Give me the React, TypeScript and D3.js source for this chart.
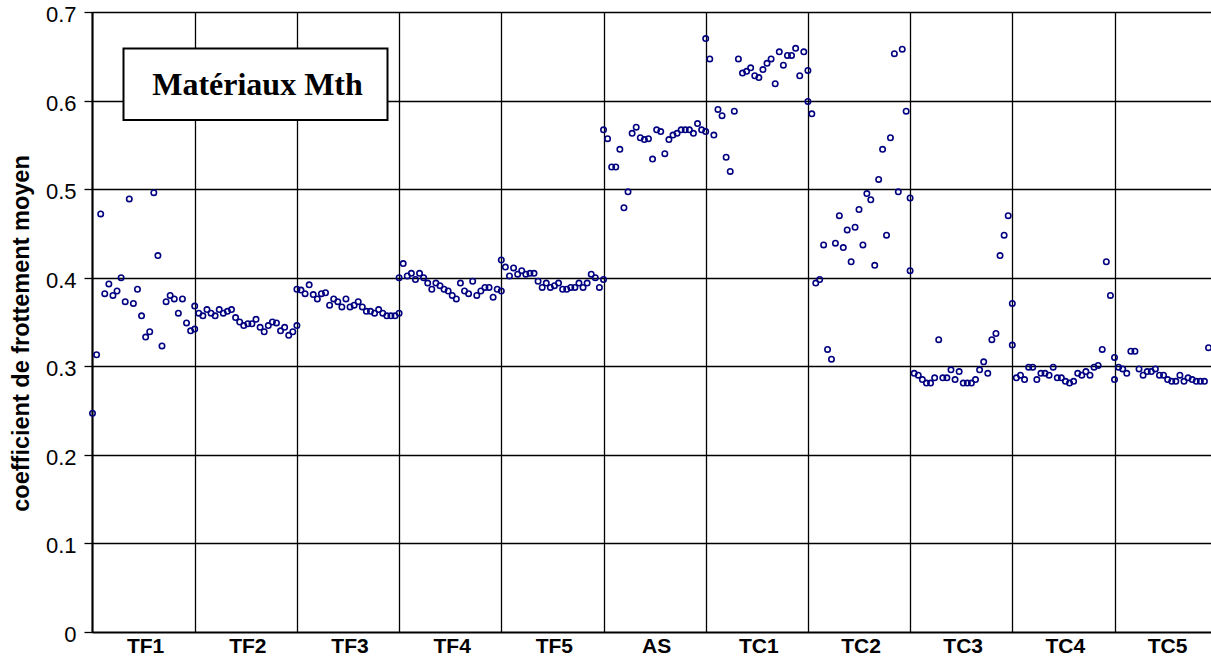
import React, { useRef, useEffect } from "react";
import * as d3 from "d3";

// Kategorien (x-Achse)
const categories = ["TF1", "TF2", "TF3", "TF4", "TF5", "AS", "TC1", "TC2", "TC3", "TC4", "TC5"];

const tf1 = [0.247, 0.313, 0.472, 0.382, 0.393, 0.38, 0.385, 0.4, 0.373, 0.489, 0.371, 0.387, 0.357, 0.333, 0.339, 0.496, 0.425, 0.323, 0.373, 0.38, 0.376, 0.36, 0.376, 0.349, 0.34, 0.342];
const tf2 = [0.368, 0.36, 0.357, 0.364, 0.36, 0.357, 0.364, 0.36, 0.362, 0.364, 0.355, 0.35, 0.346, 0.348, 0.348, 0.353, 0.344, 0.339, 0.346, 0.35, 0.349, 0.34, 0.344, 0.335, 0.339, 0.346];
const tf3 = [0.387, 0.386, 0.382, 0.392, 0.381, 0.376, 0.382, 0.383, 0.369, 0.376, 0.373, 0.367, 0.376, 0.367, 0.369, 0.373, 0.367, 0.362, 0.362, 0.36, 0.364, 0.36, 0.357, 0.357, 0.357, 0.36];
const tf4 = [0.4, 0.416, 0.402, 0.405, 0.398, 0.405, 0.4, 0.394, 0.387, 0.394, 0.391, 0.387, 0.385, 0.38, 0.376, 0.394, 0.385, 0.382, 0.396, 0.38, 0.385, 0.389, 0.389, 0.378, 0.387, 0.385];
const tf5 = [0.42, 0.412, 0.402, 0.411, 0.404, 0.408, 0.404, 0.405, 0.405, 0.396, 0.389, 0.394, 0.389, 0.391, 0.394, 0.387, 0.387, 0.389, 0.389, 0.394, 0.389, 0.394, 0.404, 0.4, 0.389, 0.398];
const as = [0.567, 0.557, 0.525, 0.525, 0.545, 0.479, 0.497, 0.563, 0.57, 0.558, 0.556, 0.557, 0.534, 0.567, 0.565, 0.54, 0.556, 0.561, 0.563, 0.567, 0.567, 0.567, 0.563, 0.574, 0.567, 0.565];
const tc1 = [0.67, 0.647, 0.561, 0.59, 0.583, 0.536, 0.52, 0.588, 0.647, 0.631, 0.633, 0.637, 0.628, 0.626, 0.635, 0.642, 0.647, 0.619, 0.655, 0.64, 0.651, 0.651, 0.659, 0.628, 0.655, 0.634];
const tc2 = [0.599, 0.585, 0.394, 0.398, 0.437, 0.319, 0.308, 0.439, 0.47, 0.434, 0.454, 0.418, 0.457, 0.477, 0.437, 0.495, 0.488, 0.414, 0.511, 0.545, 0.448, 0.558, 0.653, 0.497, 0.658, 0.588, 0.49];
const tc3 = [0.408, 0.292, 0.29, 0.285, 0.281, 0.281, 0.287, 0.33, 0.287, 0.287, 0.296, 0.285, 0.294, 0.281, 0.281, 0.281, 0.285, 0.296, 0.305, 0.292, 0.33, 0.337, 0.425, 0.448, 0.47, 0.371];
const tc4 = [0.324, 0.287, 0.29, 0.285, 0.299, 0.299, 0.285, 0.292, 0.292, 0.29, 0.299, 0.287, 0.287, 0.283, 0.281, 0.283, 0.292, 0.29, 0.294, 0.29, 0.299, 0.301, 0.319, 0.418, 0.38, 0.31];
const tc5 = [0.285, 0.299, 0.297, 0.292, 0.317, 0.317, 0.297, 0.29, 0.294, 0.294, 0.297, 0.29, 0.29, 0.285, 0.283, 0.283, 0.29, 0.283, 0.287, 0.285, 0.283, 0.283, 0.283, 0.321];

const series = [tf1, tf2, tf3, tf4, tf5, as, tc1, tc2, tc3, tc4, tc5];

const yTicks = [0, 0.1, 0.2, 0.3, 0.4, 0.5, 0.6, 0.7];
const yTitle = "coefficient de frottement moyen";
const boxTitle = "Matériaux Mth";

const W = 1211;
const H = 661;
const SANS = "'Liberation Sans', Arial, sans-serif";
const SERIF = "'Liberation Serif', 'Times New Roman', serif";

export default function App() {
    const ref = useRef<SVGSVGElement | null>(null);

    useEffect(() => {
        if (!ref.current) return;
        const svg = d3.select(ref.current);
        svg.selectAll("*").remove();

        const left = 92.5;
        const top = 12;
        const bottom = 632;
        const band = 102.2;

        const x = d3.scaleLinear().domain([0, categories.length]).range([left, left + band * categories.length]);
        const y = d3.scaleLinear().domain([0, 0.7]).range([bottom, top]);
        const right = x(categories.length);

        svg.append("rect").attr("width", W).attr("height", H).attr("fill", "white");

        // horizontale Gitterlinien
        svg.append("g")
            .selectAll("line")
            .data(yTicks.filter((t) => t > 0))
            .enter()
            .append("line")
            .attr("x1", left)
            .attr("x2", right)
            .attr("y1", (d) => Math.round(y(d)) + 0.5)
            .attr("y2", (d) => Math.round(y(d)) + 0.5)
            .attr("stroke", "black")
            .attr("stroke-width", 1.3);

        // vertikale Linien an den Kategoriegrenzen
        svg.append("g")
            .selectAll("line")
            .data(d3.range(1, categories.length + 1))
            .enter()
            .append("line")
            .attr("x1", (d) => Math.round(x(d)) + 0.5)
            .attr("x2", (d) => Math.round(x(d)) + 0.5)
            .attr("y1", top)
            .attr("y2", bottom)
            .attr("stroke", "black")
            .attr("stroke-width", 1.3);

        // Achsen
        const yAxis = svg.append("g").attr("transform", `translate(${left},0)`);
        yAxis.append("line").attr("y1", top).attr("y2", bottom + 1).attr("stroke", "black").attr("stroke-width", 2.2);
        yAxis.selectAll("line.tick")
            .data(yTicks)
            .enter()
            .append("line")
            .attr("class", "tick")
            .attr("x1", -8)
            .attr("x2", 0)
            .attr("y1", (d) => Math.round(y(d)) + 0.5)
            .attr("y2", (d) => Math.round(y(d)) + 0.5)
            .attr("stroke", "black")
            .attr("stroke-width", 1.3);
        yAxis.selectAll("text")
            .data(yTicks)
            .enter()
            .append("text")
            .attr("x", -16)
            .attr("y", (d) => y(d) + 10)
            .attr("text-anchor", "end")
            .attr("font-family", SANS)
            .attr("font-size", 22)
            .text((d) => (d === 0 ? "0" : d3.format(".1f")(d)));

        svg.append("line")
            .attr("x1", left)
            .attr("x2", right)
            .attr("y1", bottom + 0.5)
            .attr("y2", bottom + 0.5)
            .attr("stroke", "black")
            .attr("stroke-width", 2);

        // Kategoriebeschriftung
        svg.append("g")
            .selectAll("text")
            .data(categories)
            .enter()
            .append("text")
            .attr("x", (_, i) => x(i + 0.5) + 2)
            .attr("y", bottom + 21)
            .attr("text-anchor", "middle")
            .attr("font-family", SANS)
            .attr("font-weight", "bold")
            .attr("font-size", 21)
            .text((d) => d);

        // Achsentitel
        svg.append("text")
            .attr("transform", `translate(29,${(155 + 512) / 2}) rotate(-90)`)
            .attr("text-anchor", "middle")
            .attr("font-family", SANS)
            .attr("font-weight", "bold")
            .attr("font-size", 23.5)
            .text(yTitle);

        // Messpunkte
        const pts = series.flatMap((vals, k) =>
            vals.map((v, j) => ({ pos: k + j / Math.max(vals.length - 1, 25), v }))
        );
        svg.append("g")
            .selectAll("circle")
            .data(pts)
            .enter()
            .append("circle")
            .attr("cx", (d) => x(d.pos))
            .attr("cy", (d) => y(d.v))
            .attr("r", 2.7)
            .attr("fill", "none")
            .attr("stroke", "#000080")
            .attr("stroke-width", 1.6);

        // Titelkasten
        svg.append("rect")
            .attr("x", 123.5)
            .attr("y", 48.5)
            .attr("width", 264)
            .attr("height", 71.5)
            .attr("fill", "white")
            .attr("stroke", "black")
            .attr("stroke-width", 2);
        svg.append("text")
            .attr("x", 257.5)
            .attr("y", 95)
            .attr("text-anchor", "middle")
            .attr("font-family", SERIF)
            .attr("font-weight", "bold")
            .attr("font-size", 32)
            .text(boxTitle);
    }, []);

    return (
        <div style={{ position: "absolute", left: 0, top: 0 }}>
            <svg ref={ref} width={W} height={H} style={{ display: "block" }} />
        </div>
    );
}
